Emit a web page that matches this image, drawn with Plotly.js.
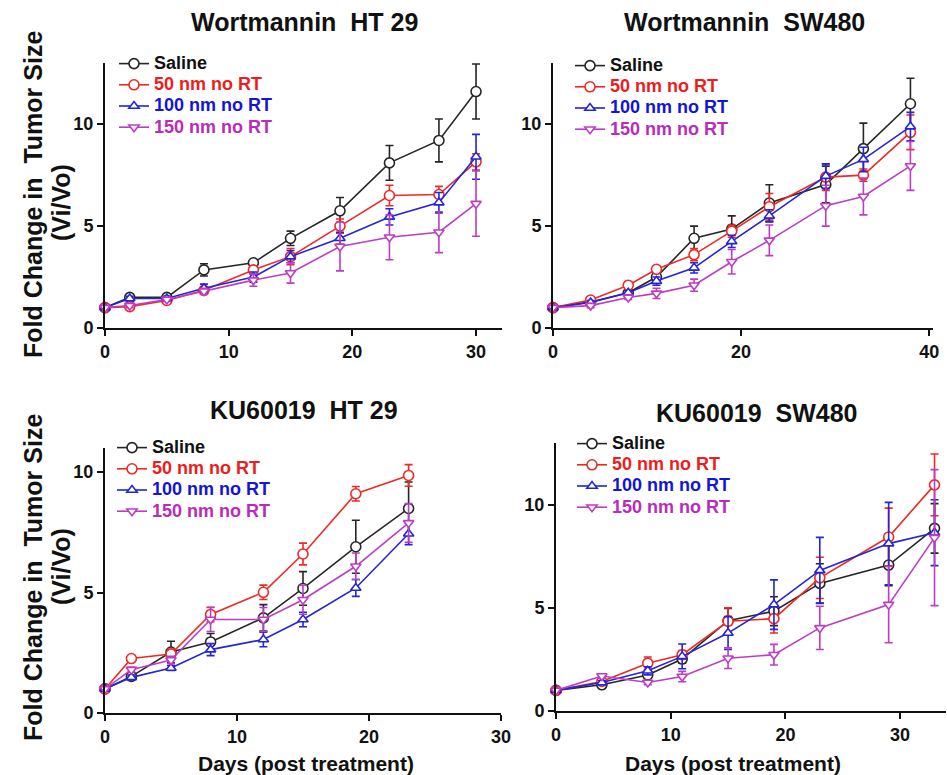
<!DOCTYPE html>
<html>
<head>
<meta charset="utf-8">
<script src="https://cdn.plot.ly/plotly-3.0.1.min.js"></script>
<style>html,body{margin:0;padding:0;background:#fff;}#chart{width:947px;height:775px;}</style>
</head>
<body>
<div id="chart"></div>
<script>
// ---------- Data ----------
const seriesNames = ['Saline', '50 nm no RT', '100 nm no RT', '150 nm no RT'];

// Wortmannin HT 29
const wHT_days = [0, 2, 5, 8, 12, 15, 19, 23, 27, 30];
const wHT_saline = [1.0, 1.5, 1.5, 2.85, 3.2, 4.4, 5.75, 8.1, 9.2, 11.6];
const wHT_saline_err = [0.05, 0.1, 0.1, 0.3, 0.15, 0.35, 0.65, 0.85, 1.05, 1.35];
const wHT_50 = [1.0, 1.05, 1.35, 1.85, 2.85, 3.5, 5.0, 6.5, 6.55, 8.15];
const wHT_50_err = [0.05, 0.1, 0.1, 0.15, 0.2, 0.4, 0.35, 0.5, 0.4, 0.4];
const wHT_100 = [1.0, 1.45, 1.45, 1.95, 2.5, 3.5, 4.4, 5.45, 6.15, 8.4];
const wHT_100_err = [0.05, 0.1, 0.1, 0.2, 0.25, 0.3, 0.3, 0.4, 0.5, 1.1];
const wHT_150 = [1.0, 1.1, 1.4, 1.8, 2.35, 2.7, 4.0, 4.45, 4.7, 6.1];
const wHT_150_err = [0.05, 0.1, 0.1, 0.15, 0.3, 0.5, 1.2, 1.1, 1.0, 1.6];

// Wortmannin SW480
const wSW_days = [0, 4, 8, 11, 15, 19, 23, 29, 33, 38];
const wSW_saline = [1.0, 1.28, 1.73, 2.5, 4.4, 4.85, 6.13, 7.04, 8.8, 11.0];
const wSW_saline_err = [0.05, 0.1, 0.1, 0.2, 0.6, 0.65, 0.9, 0.9, 1.25, 1.25];
const wSW_50 = [1.0, 1.37, 2.1, 2.88, 3.6, 4.75, 5.95, 7.4, 7.5, 9.6];
const wSW_50_err = [0.05, 0.1, 0.1, 0.15, 0.3, 0.3, 0.65, 0.65, 0.3, 0.85];
const wSW_100 = [1.0, 1.25, 1.73, 2.3, 2.95, 4.25, 5.5, 7.45, 8.27, 9.88];
const wSW_100_err = [0.05, 0.1, 0.1, 0.2, 0.25, 0.3, 0.3, 0.6, 0.6, 0.7];
const wSW_150 = [1.0, 1.1, 1.5, 1.7, 2.1, 3.25, 4.3, 6.0, 6.45, 7.95];
const wSW_150_err = [0.05, 0.1, 0.1, 0.25, 0.3, 0.6, 0.75, 1.0, 0.9, 1.2];

// KU60019 HT 29
const kHT_days = [0, 2, 5, 8, 12, 15, 19, 23];
const kHT_saline = [1.0, 1.52, 2.53, 2.95, 3.95, 5.17, 6.9, 8.49];
const kHT_saline_err = [0.05, 0.1, 0.45, 0.35, 0.55, 0.7, 1.1, 1.1];
const kHT_50 = [1.0, 2.26, 2.45, 4.09, 5.01, 6.6, 9.1, 9.86];
const kHT_50_err = [0.05, 0.1, 0.2, 0.3, 0.3, 0.45, 0.3, 0.45];
const kHT_100 = [1.0, 1.48, 1.87, 2.63, 3.05, 3.88, 5.19, 7.44];
const kHT_100_err = [0.05, 0.1, 0.1, 0.25, 0.3, 0.3, 0.35, 0.45];
const kHT_150 = [1.0, 1.8, 2.2, 3.88, 3.88, 4.7, 6.09, 7.89];
const kHT_150_err = [0.05, 0.1, 0.15, 0.5, 0.5, 0.6, 0.55, 0.8];

// KU60019 SW480
const kSW_days = [0, 4, 8, 11, 15, 19, 23, 29, 33];
const kSW_saline = [1.0, 1.27, 1.75, 2.52, 4.38, 4.84, 6.19, 7.08, 8.86];
const kSW_saline_err = [0.05, 0.1, 0.15, 0.2, 0.6, 0.7, 0.95, 1.0, 1.2];
const kSW_50 = [1.0, 1.43, 2.32, 2.73, 4.35, 4.48, 6.46, 8.44, 10.97];
const kSW_50_err = [0.05, 0.1, 0.3, 0.2, 0.65, 0.7, 1.0, 1.4, 1.5];
const kSW_100 = [1.0, 1.38, 1.95, 2.65, 3.78, 5.16, 6.82, 8.12, 8.65];
const kSW_100_err = [0.05, 0.1, 0.2, 0.6, 0.8, 1.2, 1.6, 2.0, 1.6];
const kSW_150 = [1.0, 1.7, 1.38, 1.67, 2.56, 2.73, 4.03, 5.16, 8.41];
const kSW_150_err = [0.05, 0.1, 0.1, 0.25, 0.5, 0.5, 1.05, 1.85, 3.3];

const panelTitles = ['Wortmannin\u00a0\u00a0HT 29', 'Wortmannin\u00a0\u00a0SW480', 'KU60019\u00a0\u00a0HT 29', 'KU60019\u00a0\u00a0SW480'];
const yTitle = 'Fold Change in\u00a0\u00a0Tumor Size';
const yTitle2 = '(Vi/Vo)';
const xTitle = 'Days (post treatment)';

// ---------- Styles ----------
const lineColors = ['#262626', '#ec2a26', '#2424d8', '#bd3cc4'];
const textColors = ['#111111', '#ee1c1c', '#1414d6', '#b82cbc'];
const symbols = ['circle', 'circle', 'triangle-up', 'triangle-down'];
const FONT = 'Liberation Sans, Arial, sans-serif';

const panels = [
  {days: wHT_days, vals: [wHT_saline, wHT_50, wHT_100, wHT_150], errs: [wHT_saline_err, wHT_50_err, wHT_100_err, wHT_150_err]},
  {days: wSW_days, vals: [wSW_saline, wSW_50, wSW_100, wSW_150], errs: [wSW_saline_err, wSW_50_err, wSW_100_err, wSW_150_err]},
  {days: kHT_days, vals: [kHT_saline, kHT_50, kHT_100, kHT_150], errs: [kHT_saline_err, kHT_50_err, kHT_100_err, kHT_150_err]},
  {days: kSW_days, vals: [kSW_saline, kSW_50, kSW_100, kSW_150], errs: [kSW_saline_err, kSW_50_err, kSW_100_err, kSW_150_err]}
];

const traces = [];
panels.forEach((p, pi) => {
  const sfx = pi === 0 ? '' : String(pi + 1);
  p.vals.forEach((v, si) => {
    traces.push({
      type: 'scatter', mode: 'lines+markers',
      x: p.days, y: v,
      xaxis: 'x' + sfx, yaxis: 'y' + sfx,
      legend: 'legend' + sfx,
      name: '<span style="color:' + textColors[si] + ';font-size:18px">' + seriesNames[si] + '</span>',
      line: {color: lineColors[si], width: 1.6},
      marker: {symbol: symbols[si], size: si === 0 || si === 1 ? 10 : 9, color: '#ffffff', line: {color: lineColors[si], width: 1.6}},
      error_y: {type: 'data', array: p.errs[si], visible: true, color: lineColors[si], thickness: 1.6, width: 4},
      cliponaxis: false
    });
  });
});

const W = 947, H = 775;
const px = v => v / W;
const py = v => 1 - v / H;

function axis(domain, range, dtick, anchor) {
  return {
    domain: domain, range: range, dtick: dtick, tick0: 0, anchor: anchor,
    showline: true, linewidth: 2, linecolor: '#111', mirror: false,
    ticks: 'outside', ticklen: 6, tickwidth: 2, tickcolor: '#111',
    showgrid: false, zeroline: false, fixedrange: true,
    tickfont: {family: FONT, size: 18, color: '#111', weight: 'bold'}
  };
}

function legendAt(left, top) {
  return {x: px(left), y: py(top), xanchor: 'left', yanchor: 'top', xref: 'paper', yref: 'paper',
    bgcolor: 'rgba(0,0,0,0)', borderwidth: 0,
    font: {family: FONT, size: 14, color: '#111', weight: 'bold'}};
}

const annFont = (s) => ({family: FONT, size: s, color: '#111', weight: 'bold'});
function ann(text, x, y, size, angle) {
  return {text: text, x: px(x), y: py(y), xref: 'paper', yref: 'paper', xanchor: 'center', yanchor: 'middle',
    showarrow: false, textangle: angle || 0, font: annFont(size)};
}

const layout = {
  width: W, height: H,
  margin: {l: 0, r: 0, t: 0, b: 0},
  paper_bgcolor: '#fff', plot_bgcolor: '#fff',
  showlegend: true,
  xaxis:  axis([px(105), px(502)], [0, 32.1], 10, 'y'),
  yaxis:  axis([py(328), py(63)], [0, 13], 5, 'x'),
  xaxis2: axis([px(553), px(933)], [0, 40.4], 20, 'y2'),
  yaxis2: axis([py(328), py(63)], [0, 13], 5, 'x2'),
  xaxis3: axis([px(105), px(501)], [0, 30], 10, 'y3'),
  yaxis3: axis([py(713), py(448)], [0, 11], 5, 'x3'),
  xaxis4: axis([px(556), px(946)], [0, 34], 10, 'y4'),
  yaxis4: axis([py(711), py(443)], [0, 13], 5, 'x4'),
  legend:  legendAt(114, 48),
  legend2: legendAt(570, 50),
  legend3: legendAt(112, 432),
  legend4: legendAt(572, 428),
  annotations: [
    ann(panelTitles[0], 304, 22, 25),
    ann(panelTitles[1], 744, 22, 25),
    ann(panelTitles[2], 304, 410, 25),
    ann(panelTitles[3], 757, 413, 25),
    ann(yTitle, 33, 195, 25, -90),
    ann(yTitle2, 61, 203, 25, -90),
    ann(yTitle, 33, 578, 25, -90),
    ann(yTitle2, 61, 567, 25, -90),
    ann(xTitle, 306, 763, 21),
    ann(xTitle, 733, 763, 21)
  ]
};

Plotly.newPlot('chart', traces, layout, {displayModeBar: false, staticPlot: true});
</script>
</body>
</html>
